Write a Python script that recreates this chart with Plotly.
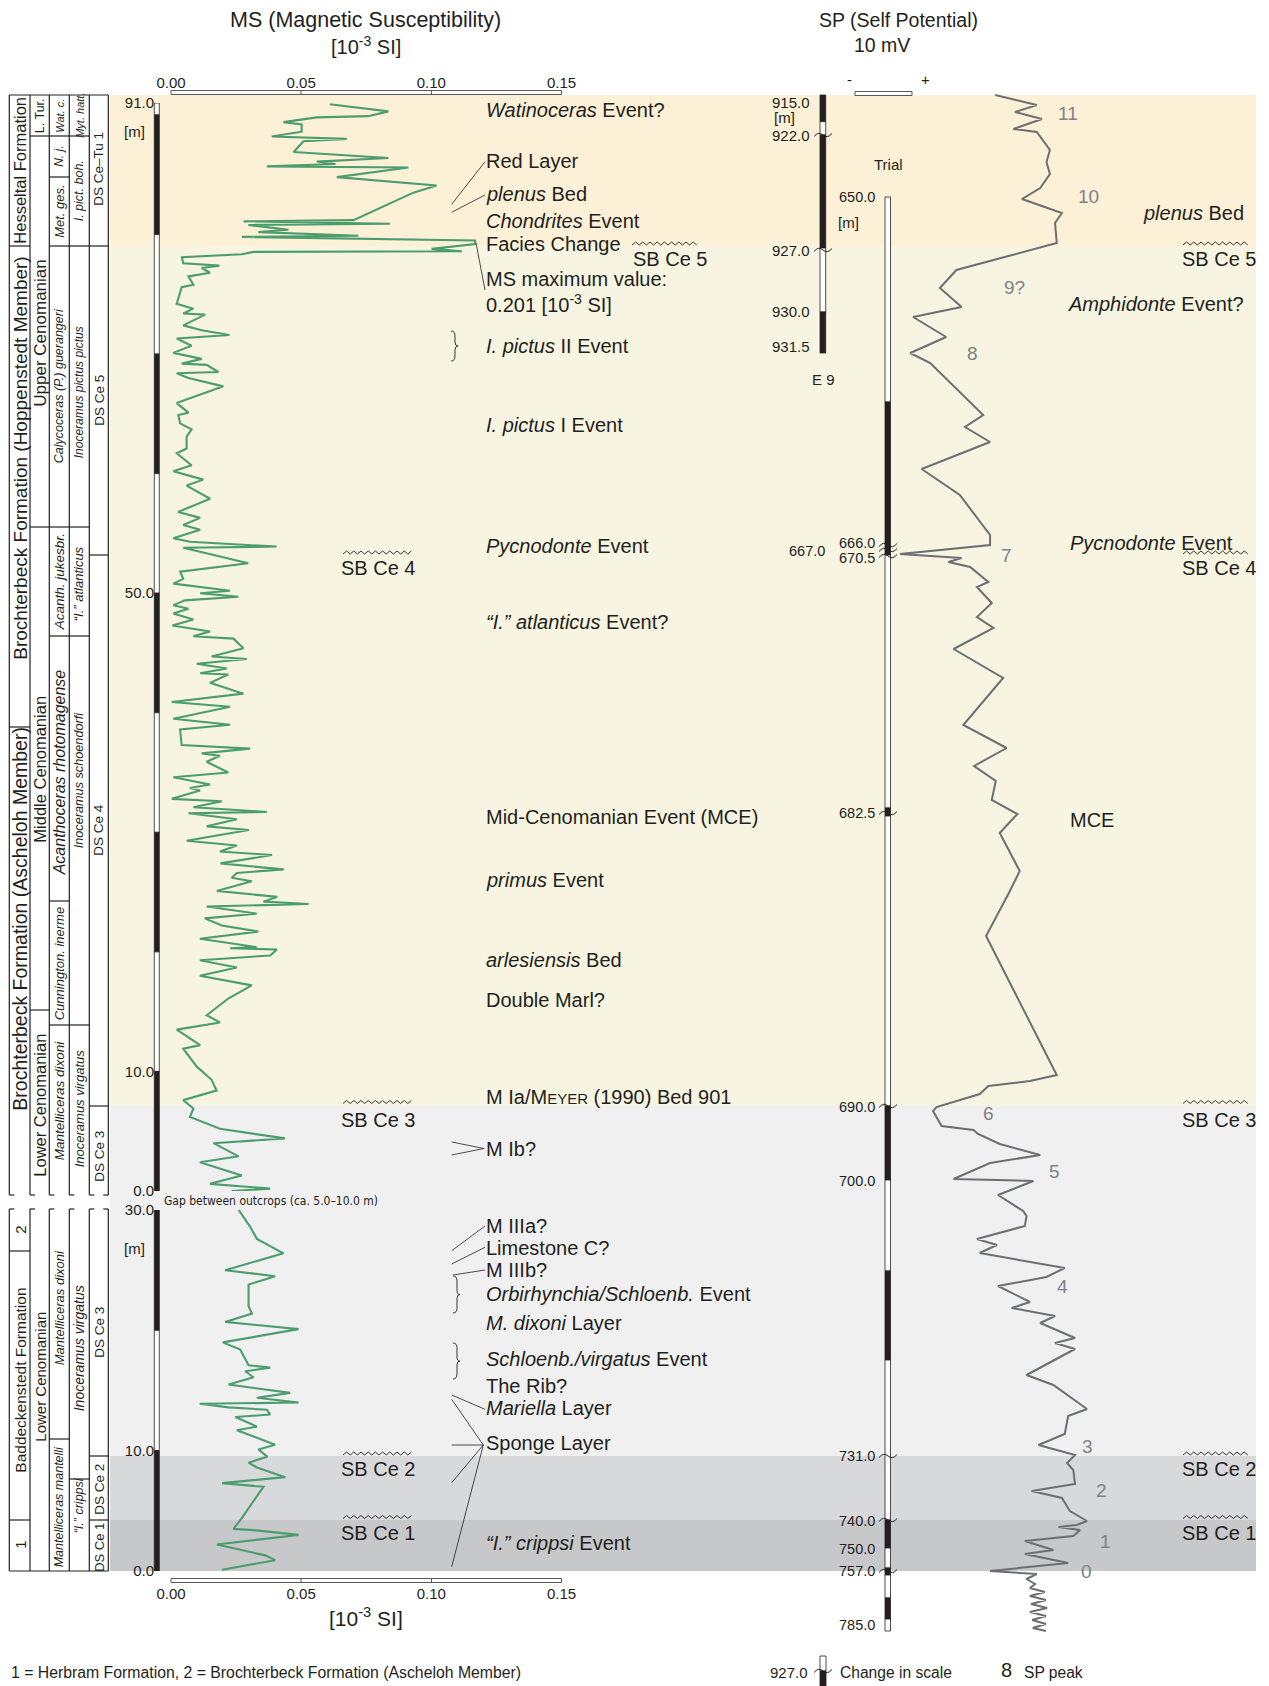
import plotly.graph_objects as go

# page coordinates (px) -> paper; the page body adds an 8 px offset
W, H = 1261, 1678
OFF = 8
def X(px): return (px - OFF) / W
def Y(py): return 1 - (py - OFF) / H

INK = "#231f20"
FONT = "Liberation Sans, Arial, Helvetica, sans-serif"
GREEN = "#4c9d6e"
SPGRAY = "#6d6e71"
PEAKGRAY = "#808285"

# ---------------- data ----------------
# MS, upper section (Hesseltal / Brochterbeck Fm.): (depth m, MS 10^-3 SI)
ms_upper = [(90.9,0.061),(90.3,0.0835),(89.9,0.0758),(89.8,0.056),(89.4,0.0432),(89.2,0.0502),(88.6,0.0502),
 (88.2,0.0387),(88.0,0.0675),(87.8,0.0509),(86.9,0.0471),(86.4,0.0835),(86.1,0.056),(85.9,0.0632),(85.7,0.0368),
 (85.6,0.0912),(84.8,0.0637),(84.1,0.102),(83.5,0.0931),(81.2,0.0701),(81.1,0.0279),(80.9,0.0841),(80.8,0.0297),
 (80.4,0.0451),(80.2,0.0336),(79.9,0.072),(79.8,0.0272),(79.5,0.1168),(79.2,0.1168),(78.8,0.1001),(78.6,0.1117),
 (78.55,0.0317),(78.35,0.0272),(78.1,0.0042),(77.6,0.0047),(77.4,0.0186),(77.2,0.0118),(76.8,0.015),(76.5,0.0067),
 (75.8,0.0086),(75.6,0.0041),(74.2,0.0022),(73.8,0.0086),(73.4,0.0047),(73.3,0.0131),(72.4,0.0047),(72.0,0.0118),
 (71.6,0.0224),(71.3,0.0022),(70.7,0.0079),(70.1,0.0009),(69.6,0.0118),(69.2,0.0041),(69.1,0.0137),(68.5,0.0182),
 (68.4,0.0022),(68.0,0.0067),(67.3,0.0201),(65.9,0.0022),(65.1,0.0067),(64.9,0.0028),(64.2,0.0035),(63.7,0.0079),
 (63.1,0.006),(62.1,0.006),(61.7,0.0022),(60.7,0.0079),(60.2,0.0009),(59.5,0.0124),(59.0,0.006),(57.9,0.015),
 (56.8,0.0028),(56.3,0.0112),(55.7,0.0047),(55.3,0.0112),(54.6,0.0009),(54.3,0.0073),(53.9,0.0406),(53.8,0.0047),
 (52.5,0.0297),(51.8,0.0035),(51.2,0.0047),(50.8,0.0009),(50.2,0.0227),(50.0,0.0112),(49.7,0.0259),(49.4,0.0054),
 (49.0,0.0009),(48.7,0.0067),(48.3,0.0009),(47.8,0.0086),(47.3,0.0005),(46.8,0.015),(46.4,0.0086),(46.2,0.024),
 (45.4,0.0278),(44.7,0.0156),(44.5,0.0291),(44.1,0.0099),(43.7,0.0214),(43.3,0.0112),(43.2,0.022),(42.5,0.015),
 (41.6,0.0278),(40.9,0.0003),(40.5,0.0227),(39.5,0.0009),(39.0,0.0227),(38.6,0.0035),(37.3,0.0041),(37.0,0.0304),
 (36.6,0.0118),(36.4,0.0188),(35.9,0.0137),(35.0,0.022),(34.6,0.0009),(34.0,0.015),(33.7,0.0073),(33.5,0.0112),
 (32.8,0.0003),(32.6,0.0195),(32.1,0.0086),(31.7,0.0368),(31.6,0.0067),(31.1,0.0253),(30.5,0.0137),(30.2,0.0299),
 (29.3,0.006),(28.9,0.0253),(28.4,0.0188),(28.1,0.0388),(27.4,0.019),(26.9,0.0433),(26.6,0.0253),(26.2,0.0233),
 (25.9,0.031),(25.1,0.0176),(24.6,0.0408),(24.2,0.0355),(24.0,0.0529),(23.8,0.0137),(23.2,0.0329),(22.8,0.013),
 (22.2,0.0195),(21.7,0.0336),(21.1,0.0111),(20.4,0.0329),(20.3,0.0227),(20.2,0.0407),(19.7,0.0381),(19.3,0.0111),
 (18.7,0.0253),(18.0,0.0111),(17.2,0.031),(16.1,0.022),(14.7,0.0137),(14.1,0.0188),(13.5,0.0022),(12.2,0.0112),
 (11.9,0.0047),(10.4,0.0099),(9.3,0.0156),(8.4,0.0175),(7.6,0.0047),(6.9,0.0086),(6.2,0.0073),(5.2,0.0188),
 (4.4,0.0438),(4.0,0.0163),(2.9,0.026),(2.4,0.0111),(1.3,0.0272),(0.6,0.015),(0.2,0.0381),(0.0,0.0233)]

# MS, lower section (Baddeckenstedt Fm.): (depth m, MS 10^-3 SI)
ms_lower = [(30.0,0.026),(28.6,0.0304),(27.6,0.033),(26.4,0.0432),(25.0,0.0208),(24.5,0.040),(23.8,0.0298),
 (22.0,0.0298),(21.4,0.0311),(20.7,0.0208),(20.1,0.049),(19.0,0.0199),(18.4,0.0266),(17.1,0.0298),(16.9,0.0381),
 (16.6,0.0285),(16.1,0.0317),(15.5,0.0221),(14.8,0.0458),(14.4,0.033),(14.0,0.049),(13.9,0.011),(13.6,0.0221),
 (13.4,0.0368),(13.0,0.0381),(12.8,0.0247),(12.0,0.033),(11.7,0.0253),(10.5,0.040),(10.1,0.0336),(9.5,0.037),
 (9.0,0.0298),(8.6,0.033),(7.8,0.0439),(7.3,0.0196),(7.0,0.0355),(4.4,0.0272),(3.5,0.024),(3.4,0.0317),
 (3.0,0.049),(2.2,0.0176),(1.3,0.0362),(0.9,0.040),(0.1,0.0196)]

# SP log: (composite log level, relative SP in mV)
sp_log = [(9.5,16.7),(10.5,24.0),(11.2,20.2),(11.9,24.9),(12.9,19.9),(13.2,24.0),(15.0,26.3),(16.2,25.7),
 (17.4,26.3),(18.8,24.6),(19.9,21.4),(21.3,28.4),(22.3,27.2),(24.3,27.5),(27.0,9.9),(28.8,7.0),(30.7,10.8),
 (31.7,2.3),(33.7,8.1),(35.3,1.8),(36.3,5.3),(41.5,14.6),(42.7,11.4),(44.2,15.8),(46.9,3.8),(49.5,10.5),
 (53.5,15.8),(54.5,15.8),(55.4,0.0),(55.8,10.8),(56.2,8.5),(56.7,12.3),(58.2,15.5),(58.7,13.5),(60.3,16.1),
 (61.7,13.5),(62.8,16.4),(64.9,9.4),(67.8,18.1),(72.5,11.1),(74.8,18.7),(76.6,13.0),(78.1,16.8),(80.0,16.1),
 (81.4,20.6),(83.3,17.5),(87.1,21.0),(89.3,19.1),(93.6,15.1),(96.3,17.5),(101.6,22.3),(107.5,27.5),(108.1,22.8),
 (108.6,15.5),(109.4,14.0),(110.7,6.4),(111.1,5.8),(112.6,7.3),(113.0,12.9),(113.4,13.7),(114.4,17.5),
 (115.5,24.6),(116.3,15.8),(117.9,9.4),(118.1,23.4),(119.5,17.2),(121.1,21.6),(121.6,22.2),(122.6,21.9),
 (123.9,13.5),(124.5,17.0),(125.3,14.0),(126.8,28.9),(127.7,25.7),(128.6,17.2),(130.2,22.8),(130.8,19.6),
 (131.6,27.2),(132.3,24.6),(133.8,30.7),(134.3,27.2),(134.9,30.7),(137.5,22.2),(138.5,26.9),(140.9,32.8),
 (141.6,29.5),(143.4,28.9),(144.5,24.3),(145.5,30.7),(146.3,29.3),(147.0,30.4),(148.4,30.7),(149.1,23.1),
 (149.8,28.4),(151.1,29.8),(152.1,32.8),(152.5,31.0),(152.7,27.8),(153.0,31.6),(153.6,30.4),(154.1,21.9),
 (155.0,26.9),(155.4,21.9),(156.3,29.5),(157.1,15.8),(157.4,24.0),(157.9,22.2),(158.4,23.7),(158.8,22.8),
 (159.2,25.4),(159.6,22.8),(160.0,25.6),(160.4,23.0),(160.8,25.8),(161.2,22.8),(161.6,25.6),(162.0,23.2),
 (162.4,25.6),(162.8,23.3),(163.1,25.6)]

ms_tick_vals = [0.0, 0.05, 0.10, 0.15]
ms_tick_text = ["0.00", "0.05", "0.10", "0.15"]
upper_depth_ticks = [0, 10, 50, 91]
upper_depth_text = ["0.0", "10.0", "50.0", "91.0"]
lower_depth_ticks = [0, 10, 30]
lower_depth_text = ["0.0", "10.0", "30.0"]
e9_labels = ["915.0", "922.0", "927.0", "930.0", "931.5"]
trial_labels = ["650.0", "666.0", "670.5", "682.5", "690.0", "700.0", "731.0", "740.0", "750.0", "757.0", "785.0"]
sp_peak_labels = ["11", "10", "9?", "8", "7", "6", "5", "4", "3", "2", "1", "0"]

# ---------------- figure ----------------
fig = go.Figure()
fig.add_trace(go.Scatter(x=[v for d, v in ms_upper], y=[d for d, v in ms_upper], mode="lines",
                         line=dict(color=GREEN, width=2.1), xaxis="x", yaxis="y", hoverinfo="skip"))
fig.add_trace(go.Scatter(x=[v for d, v in ms_lower], y=[d for d, v in ms_lower], mode="lines",
                         line=dict(color=GREEN, width=2.1), xaxis="x2", yaxis="y2", hoverinfo="skip"))
fig.add_trace(go.Scatter(x=[v for p, v in sp_log], y=[p for p, v in sp_log], mode="lines",
                         line=dict(color=SPGRAY, width=2), xaxis="x3", yaxis="y3", hoverinfo="skip"))

shapes = []
def rect(x0, y0, x1, y1, fill, line_color=None, lw=0, layer="below"):
    shapes.append(dict(type="rect", xref="paper", yref="paper", x0=X(x0), x1=X(x1), y0=Y(y1), y1=Y(y0),
                       fillcolor=fill, line=dict(color=line_color or fill, width=lw), layer=layer))
def line(x0, y0, x1, y1, color=INK, lw=1.0, layer="above"):
    shapes.append(dict(type="line", xref="paper", yref="paper", x0=X(x0), x1=X(x1), y0=Y(y0), y1=Y(y1),
                       line=dict(color=color, width=lw), layer=layer))
def path(pts, color=INK, lw=1.0):
    s = "M " + " L ".join(f"{X(a):.5f},{Y(b):.5f}" for a, b in pts)
    shapes.append(dict(type="path", xref="paper", yref="paper", path=s,
                       line=dict(color=color, width=lw), layer="above"))
def zigzag(x0, x1, y, amp=3.0, step=3.6):
    n = int((x1 - x0) / step)
    path([(x0 + i * step, y - (amp if i % 2 else 0)) for i in range(n + 1)], lw=0.9)
def tilde(cx, y, half=9):
    s = (f"M {X(cx-half):.5f},{Y(y+1.5):.5f} Q {X(cx-half/2):.5f},{Y(y-4):.5f} {X(cx):.5f},{Y(y):.5f} "
         f"Q {X(cx+half/2):.5f},{Y(y+4):.5f} {X(cx+half):.5f},{Y(y-1.5):.5f}")
    shapes.append(dict(type="path", xref="paper", yref="paper", path=s, line=dict(color=INK, width=1), layer="above"))
def brace(x, y0, y1, w=4):
    ym = (y0 + y1) / 2
    s = (f"M {X(x):.5f},{Y(y0):.5f} Q {X(x+w):.5f},{Y(y0):.5f} {X(x+w):.5f},{Y(y0+5):.5f} "
         f"L {X(x+w):.5f},{Y(ym-4):.5f} Q {X(x+w):.5f},{Y(ym):.5f} {X(x+w+3):.5f},{Y(ym):.5f} "
         f"Q {X(x+w):.5f},{Y(ym):.5f} {X(x+w):.5f},{Y(ym+4):.5f} L {X(x+w):.5f},{Y(y1-5):.5f} "
         f"Q {X(x+w):.5f},{Y(y1):.5f} {X(x):.5f},{Y(y1):.5f}")
    shapes.append(dict(type="path", xref="paper", yref="paper", path=s, line=dict(color=INK, width=0.9), layer="above"))

# background bands
rect(110, 95, 1256, 246, "#fcf0d7")
rect(110, 246, 1256, 1106, "#f7f5e2")
rect(110, 1106, 1256, 1456, "#f0f0f0")
rect(110, 1456, 1256, 1520, "#d8d9db")
rect(110, 1520, 1256, 1571, "#c7c8ca")

# MS axis bars (top and bottom)
for yb in (90.5, 1578.5):
    rect(171, yb, 561.5, yb + 4, "white", "#58595b", 1, layer="above")
    for xv in (301, 431.5):
        line(xv, yb, xv, yb + 4, "#58595b", 1)

# meter scale bars of the MS column (drawn in section metres through the y axes)
def meter_bar(yref, segs):
    for d0, d1, col in segs:
        shapes.append(dict(type="rect", xref="paper", yref=yref, x0=X(154.3), x1=X(159.3), y0=d0, y1=d1,
                           fillcolor=col, line=dict(color=INK, width=0.8), layer="above"))
meter_bar("y", [(90, 91, "white"), (80, 90, "#231f20"), (70, 80, "white"), (60, 70, "#231f20"),
                (50, 60, "white"), (40, 50, "#231f20"), (30, 40, "white"), (20, 30, "#231f20"),
                (10, 20, "white"), (0, 10, "#231f20")])
meter_bar("y2", [(20, 30, "#231f20"), (10, 20, "white"), (0, 10, "#231f20")])

# E9 and Trial bars
def log_bar(x0, x1, segs):
    for a, b, col in segs:
        rect(x0, a, x1, b, col, INK, 0.8, layer="above")
log_bar(820, 825.7, [(95, 121.7, "#231f20"), (121.7, 135, "white"), (135, 248, "#231f20"),
                     (248, 312, "white"), (312, 353, "#231f20")])
log_bar(885, 890.5, [(197, 402, "white"), (402, 555, "#231f20"), (555, 808, "white"), (808, 816, "#231f20"),
                     (816, 1106, "white"), (1106, 1180, "#231f20"), (1180, 1271, "white"),
                     (1271, 1360, "#231f20"), (1360, 1520, "white"), (1520, 1548, "#231f20"),
                     (1548, 1568, "white"), (1568, 1575, "#231f20"), (1575, 1598, "white"),
                     (1598, 1619, "#231f20"), (1619, 1631, "white")])
for yy in (135, 250):
    tilde(823, yy)
for yy in (545, 550, 556, 813, 1106, 1456, 1520, 1571):
    tilde(888, yy)

# SP scale bar
rect(855, 91.5, 912, 95.5, "white", "#58595b", 1, layer="above")

# stratigraphic columns
cols = [9.3, 30, 49.3, 69.3, 89.3, 108.3]
for c in cols:
    line(c, 95, c, 1195, lw=1.2)
    line(c, 1209, c, 1571, lw=1.2)
line(cols[0], 95, cols[-1], 95, lw=1.2)
line(cols[0], 1571, cols[-1], 1571, lw=1.2)
for c in cols[:-1]:
    line(c, 1195, c + 5, 1195, lw=1.2)
    line(c, 1209, c + 5, 1209, lw=1.2)
line(cols[-1] - 5, 1195, cols[-1], 1195, lw=1.2)
line(cols[-1] - 5, 1209, cols[-1], 1209, lw=1.2)
bounds = {0: [246, 727, 1251, 1520], 1: [136, 527, 1010], 2: [136, 177, 246, 527, 636, 901, 1025, 1439],
          3: [136, 246, 527, 636, 1025, 1479], 4: [246, 555, 1106, 1456, 1520]}
for i, ys in bounds.items():
    for yy in ys:
        line(cols[i], yy, cols[i + 1], yy, lw=1.2)

# SB zigzags
for yy in (555, 1104.5, 1456, 1519.5):
    zigzag(343, 412, yy - 1)
zigzag(632, 700, 245)
for yy in (246, 555, 1104.5, 1456, 1519.5):
    zigzag(1183, 1251, yy - 1)

# leader lines and braces
LL = "#231f20"
line(451.7, 204.3, 485, 161.7, LL, 0.8)
line(451.7, 212.3, 485, 195, LL, 0.8)
line(476, 242.7, 485, 290, LL, 0.8)
brace(451, 331, 361)
line(451.7, 1142, 484, 1148.5, LL, 0.8)
line(451.7, 1155, 484, 1148.5, LL, 0.8)
line(451.7, 1250.7, 485, 1226, LL, 0.8)
line(451.7, 1264, 485, 1247.3, LL, 0.8)
line(453, 1275, 485, 1270, LL, 0.8)
brace(453, 1276, 1313)
brace(453, 1343, 1379)
line(451.7, 1395, 485, 1409.3, LL, 0.8)
line(451.7, 1399.3, 483.3, 1445, LL, 0.8)
line(451.7, 1445, 483.3, 1445, LL, 0.8)
line(451.7, 1482.7, 483.3, 1445, LL, 0.8)
line(451.7, 1566.7, 483.3, 1445, LL, 0.8)

# legend symbol
rect(820, 1656, 826, 1671, "white", INK, 0.8, layer="above")
rect(820, 1671, 826, 1686, "#231f20", INK, 0.8, layer="above")
tilde(823, 1671)

# ---------------- annotations ----------------
anns = []
def T(text, x, y, size=20, xa="left", ya="middle", color=INK, angle=0, family=FONT):
    anns.append(dict(text=text, x=X(x), y=Y(y), xref="paper", yref="paper", xanchor=xa, yanchor=ya,
                     showarrow=False, textangle=angle, font=dict(size=size, color=color, family=family)))

T("MS (Magnetic Susceptibility)", 365.6, 20, 21.5, "center")
T("[10<sup>-3</sup> SI]", 365.6, 45, 20, "center")
T("SP (Self Potential)", 898, 20, 19.5, "center")
T("10 mV", 882, 45, 19.5, "center")
T("-", 849.5, 79, 15, "center")
T("+", 925, 79, 15, "center")
T("[10<sup>-3</sup> SI]", 365.6, 1617, 21, "center")
T("1 = Herbram Formation, 2 = Brochterbeck Formation (Ascheloh Member)", 9, 1672, 15.8)
T("[m]", 122, 132, 15)
T("[m]", 122, 1248, 15)
T("Gap between outcrops (ca. 5.0–10.0 m)", 162, 1201, 12,
  family="Liberation Sans Narrow, DejaVu Sans Condensed, Arial Narrow, sans-serif")

# MS column events
ev = [("<i>Watinoceras</i> Event?", 110), ("Red Layer", 161), ("<i>plenus</i> Bed", 194),
      ("<i>Chondrites</i> Event", 221), ("Facies Change", 244), ("MS maximum value:", 279),
      ("0.201 [10<sup>-3</sup> SI]", 303), ("<i>I. pictus</i> II Event", 346), ("<i>I. pictus</i> I Event", 425),
      ("<i>Pycnodonte</i> Event", 546), ("<i>“I.” atlanticus</i> Event?", 622),
      ("Mid-Cenomanian Event (MCE)", 817), ("<i>primus</i> Event", 880), ("<i>arlesiensis</i> Bed", 960),
      ("Double Marl?", 1000), ("M Ia/M<span style='font-size:15px'>EYER</span> (1990) Bed 901", 1097),
      ("M Ib?", 1149), ("M IIIa?", 1226), ("Limestone C?", 1248), ("M IIIb?", 1270),
      ("<i>Orbirhynchia/Schloenb.</i> Event", 1294), ("<i>M. dixoni</i> Layer", 1323),
      ("<i>Schloenb./virgatus</i> Event", 1359), ("The Rib?", 1386), ("<i>Mariella</i> Layer", 1408),
      ("Sponge Layer", 1443), ("<i>“I.” crippsi</i> Event", 1543)]
for t, yy in ev:
    T(t, 484, yy)
T("SB Ce 5", 631, 259)
for t, yy in (("SB Ce 4", 568), ("SB Ce 3", 1119.5), ("SB Ce 2", 1469), ("SB Ce 1", 1532.5)):
    T(t, 339, yy)
for t, yy in (("SB Ce 5", 259), ("SB Ce 4", 568), ("SB Ce 3", 1119.5), ("SB Ce 2", 1469), ("SB Ce 1", 1532.5)):
    T(t, 1180, yy)
T("<i>plenus</i> Bed", 1246, 213, xa="right")
T("<i>Amphidonte</i> Event?", 1246, 304, xa="right")
T("<i>Pycnodonte</i> Event", 1068, 543)
T("MCE", 1068, 819.5)

# depth labels of the logs
for t, yy in zip(e9_labels, (102.7, 135, 250, 312, 346.7)):
    T(t, 812, yy, 15, "right")
T("[m]", 772, 117, 15)
T("E 9", 823, 379, 15, "center")
T("Trial", 888, 165, 15, "center")
T("[m]", 836, 222, 15)
for t, yy in zip(trial_labels, (196.7, 543, 558, 813, 1106.6, 1181, 1456, 1520.6, 1548.6, 1571, 1625)):
    T(t, 877, yy, 14.5, "right")
T("667.0", 827, 551, 14.5, "right")

# SP peaks
for t, (xx, yy) in zip(sp_peak_labels, [(1068, 113), (1088, 196), (1014, 288), (973, 353), (1006.5, 555),
                                        (988, 1113), (1054, 1171), (1062.5, 1286), (1087, 1446),
                                        (1101, 1490.5), (1105.5, 1541), (1086, 1571)]):
    T(t, xx, yy, 19, "center", color=PEAKGRAY)

# bottom legend
T("927.0", 810, 1672, 15, "right")
T("Change in scale", 838, 1672, 15.6)
T("8", 1006, 1670, 20, "center")
T("SP peak", 1022, 1672, 15.6)

# stratigraphic column texts (rotated)
c1, c2, c3, c4, c5 = 19.7, 39.7, 59.3, 79.3, 98.8
for t, x, yy, s in [
    ("Hesseltal Formation", c1, 170, 16.5), ("Brochterbeck Formation (Hoppenstedt Member)", c1, 458, 19),
    ("Brochterbeck Formation (Ascheloh Member)", c1, 919, 19.5), ("2", c1, 1230, 15),
    ("Baddeckenstedt Formation", c1, 1380, 15.5), ("1", c1, 1545, 15),
    ("L. Tur.", c2, 115.5, 12.5), ("Upper Cenomanian", c2, 333, 17), ("Middle Cenomanian", c2, 769, 16.5),
    ("Lower Cenomanian", c2, 1105, 16.5), ("Lower Cenomanian", c2, 1377, 15),
    ("DS Ce–Tu 1", c5, 169, 13.5), ("DS Ce 5", c5, 400, 13.5), ("DS Ce 4", c5, 830, 13.5),
    ("DS Ce 3", c5, 1156, 13.5), ("DS Ce 3", c5, 1332, 13.5), ("DS Ce 2", c5, 1489, 13.5),
    ("DS Ce 1", c5, 1547, 13)]:
    T(t, x, yy, s, "center", angle=-90)
for t, x, yy, s in [
    ("Wat. c.", c3, 115.5, 11), ("N. j.", c3, 156.5, 12), ("Met. ges.", c3, 211.5, 13),
    ("Calycoceras (P.) guerangeri", c3, 386, 12.5), ("Acanth. jukesbr.", c3, 582, 13.5),
    ("Acanthoceras rhotomagense", c3, 772, 16), ("Cunnington. inerme", c3, 964, 13),
    ("Mantelliceras dixoni", c3, 1100, 13.5), ("Mantelliceras dixoni", c3, 1308, 13),
    ("Mantelliceras mantelli", c3, 1507, 12.5),
    ("Myt. hatt.", c4, 115.5, 11), ("I. pict. boh.", c4, 191, 12.5), ("Inoceramus pictus pictus", c4, 392, 12),
    ("“I.” atlanticus", c4, 584, 13), ("Inoceramus schoendorfi", c4, 780, 12.7),
    ("Inoceramus virgatus", c4, 1108, 13), ("Inoceramus virgatus", c4, 1348, 14),
    ("“I.” crippsi", c4, 1505, 12.5)]:
    T("<i>" + t + "</i>", x, yy, s, "center", angle=-90)

axfont = dict(size=15, color=INK, family=FONT)
common = dict(showgrid=False, zeroline=False, showline=False, ticks="", fixedrange=True, automargin=False)
fig.update_layout(
    width=W, height=H, margin=dict(l=0, r=0, t=0, b=0, pad=0, autoexpand=False), showlegend=False,
    paper_bgcolor="white", plot_bgcolor="rgba(0,0,0,0)", font=dict(family=FONT, color=INK),
    xaxis=dict(domain=[X(171), X(561.5)], range=[0, 0.15], anchor="free", position=Y(91), side="top",
               tickvals=ms_tick_vals, ticktext=ms_tick_text, tickfont=axfont, **common),
    xaxis2=dict(overlaying="x", range=[0, 0.15], anchor="free", position=Y(1583), side="bottom",
                tickvals=ms_tick_vals, ticktext=ms_tick_text, tickfont=axfont, **common),
    yaxis=dict(domain=[Y(1191), Y(103)], range=[0, 91], anchor="free", position=X(154), side="left",
               tickvals=upper_depth_ticks, ticktext=upper_depth_text, tickfont=dict(size=15, color=INK, family=FONT),
               **common),
    yaxis2=dict(domain=[Y(1571), Y(1210)], range=[0, 30], anchor="free", position=X(154), side="left",
                tickvals=lower_depth_ticks, ticktext=lower_depth_text, tickfont=dict(size=15, color=INK, family=FONT),
                **common),
    xaxis3=dict(domain=[0, 1], range=[(OFF - 900) / 5.7, (OFF + W - 900) / 5.7], visible=False, anchor="y3",
                fixedrange=True),
    yaxis3=dict(domain=[0, 1], range=[(OFF + H) / 10, OFF / 10], visible=False, anchor="x3", fixedrange=True),
    shapes=shapes, annotations=anns,
)
fig.write_html("out.html")
